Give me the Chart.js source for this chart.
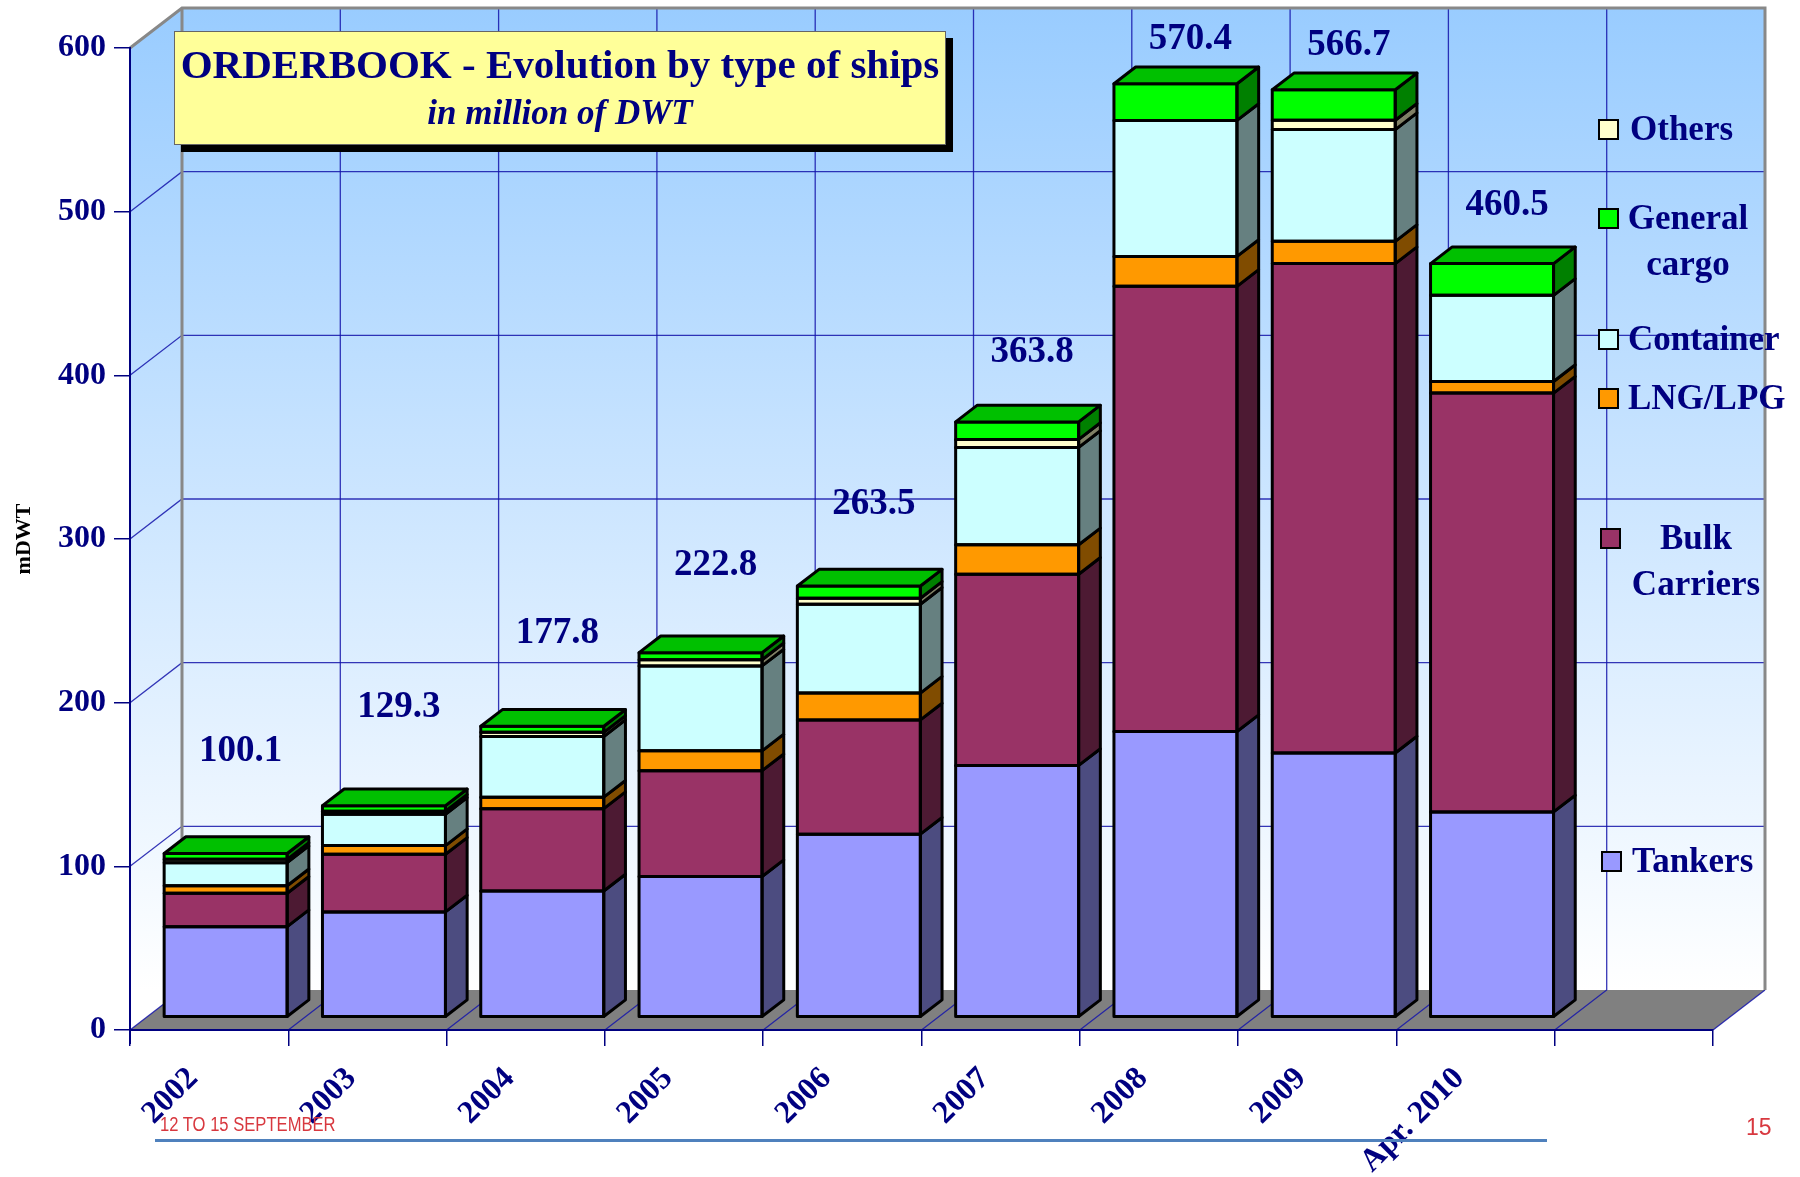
<!DOCTYPE html>
<html>
<head>
<meta charset="utf-8">
<script src="https://cdn.jsdelivr.net/npm/chart.js@4.4.1/dist/chart.umd.min.js"></script>
<style>
  html, body { margin: 0; padding: 0; background: #ffffff; }
  #wrap { position: relative; width: 1800px; height: 1177px; overflow: hidden; }
  #chart { position: absolute; left: 0; top: 0; }
  .titlebox { position: absolute; left: 174px; top: 31px; width: 770px; height: 112px;
    background: #FFFF99; border: 1px solid #666; box-shadow: 7px 7px 0 #000;
    font-family: 'Liberation Serif', 'Times New Roman', serif; color: #000080; text-align: center; }
  .t1 { position: absolute; left: 0; right: 0; top: 8px; font-weight: bold; font-size: 41px; line-height: 48px; }
  .t2 { position: absolute; left: 0; right: 0; top: 60px; font-weight: bold; font-style: italic; font-size: 35px; line-height: 42px; }
  .lg { position: absolute; font-family: 'Liberation Serif', 'Times New Roman', serif; font-weight: bold;
    font-size: 35px; line-height: 46px; color: #000080; white-space: nowrap; }
  .sq { position: absolute; width: 17px; height: 17px; border: 2.5px solid #000; }
  .foot1 { position: absolute; left: 160px; top: 1113px; font-family: 'Liberation Sans Narrow', 'Liberation Sans', sans-serif;
    font-size: 20px; color: #D8383F; white-space: nowrap; transform: scaleX(0.83); transform-origin: 0 0; }
  .footline { position: absolute; left: 155px; top: 1139px; width: 1392px; height: 3px; background: #4F81BD; }
  .foot2 { position: absolute; left: 1746px; top: 1114px; font-family: 'Liberation Sans', sans-serif; font-size: 23px; color: #D8383F; }
</style>
</head>
<body>
<div id="wrap">
  <canvas id="chart" width="1800" height="1177"></canvas>
  <div class="titlebox">
    <div class="t1">ORDERBOOK - Evolution by type of ships</div>
    <div class="t2">in million of DWT</div>
  </div>
  <div id="legend"></div>
  <div class="foot1">12 TO 15 SEPTEMBER</div>
  <div class="footline"></div>
  <div class="foot2">15</div>
</div>
<script>
// ---------- DATA ----------
const categories = ['2002', '2003', '2004', '2005', '2006', '2007', '2008', '2009', 'Apr. 2010', ''];
const tankers      = [55.4, 64.4, 77.2, 86.0, 111.9, 153.9, 174.6, 161.5, 125.5];
const bulkCarriers = [20.4, 35.2, 50.3, 64.7, 69.8, 116.8, 272.0, 299.0, 255.9];
const lngLpg       = [4.6, 5.3, 7.0, 12.1, 16.4, 18.0, 18.3, 13.6, 7.1];
const container    = [14.1, 19.2, 37.1, 51.9, 54.3, 59.5, 83.1, 68.3, 52.6];
const others       = [2.0, 1.8, 2.5, 3.8, 3.6, 4.9, 0, 5.7, 0];
const generalCargo = [3.6, 3.4, 3.7, 4.3, 7.5, 10.7, 22.4, 18.6, 19.4];
const totals       = [100.1, 129.3, 177.8, 222.8, 263.5, 363.8, 570.4, 566.7, 460.5];
const yTicks       = [0, 100, 200, 300, 400, 500, 600];
const seriesNames  = ['Tankers', 'Bulk Carriers', 'LNG/LPG', 'Container', 'Others', 'General cargo'];

// ---------- STYLE ----------
const frontColors = ['#9999FF', '#993366', '#FF9900', '#CCFFFF', '#FFFFCC', '#00FF00'];
const sideColors  = ['#4C4C80', '#4D1A33', '#804C00', '#668080', '#808066', '#008000'];
const topColors   = ['#7373BF', '#73264D', '#BF7300', '#99BFBF', '#BFBF99', '#00C000'];
const NAVY = '#000080';
const SERIF = "'Liberation Serif', 'Times New Roman', serif";
const G = { wallDX: 52, wallDY: -40, barDX: 16.5, barDY: -12.7, depthX: 21.7, depthY: -16.7 };
const LABEL = { dx: 15, squeeze: 0.925, lift: 127 };

// ---------- LEGEND (HTML) ----------
const legendLayout = [
  { s: 4, sq: [1598, 119], txt: [1630, 106], w: null, lines: ['Others'] },
  { s: 5, sq: [1598, 208], txt: [1626, 195], w: 124, lines: ['General', 'cargo'] },
  { s: 3, sq: [1598, 329], txt: [1628, 316], w: null, lines: ['Container'] },
  { s: 2, sq: [1598, 388], txt: [1628, 375], w: null, lines: ['LNG/LPG'] },
  { s: 1, sq: [1600, 528], txt: [1630, 515], w: 132, lines: ['Bulk', 'Carriers'] },
  { s: 0, sq: [1601, 851], txt: [1632, 838], w: null, lines: ['Tankers'] }
];
const legendEl = document.getElementById('legend');
legendLayout.forEach(it => {
  const sq = document.createElement('div');
  sq.className = 'sq';
  sq.style.left = it.sq[0] + 'px';
  sq.style.top = it.sq[1] + 'px';
  sq.style.background = frontColors[it.s];
  legendEl.appendChild(sq);
  const t = document.createElement('div');
  t.className = 'lg';
  t.style.left = it.txt[0] + 'px';
  t.style.top = it.txt[1] + 'px';
  if (it.w) { t.style.width = it.w + 'px'; t.style.textAlign = 'center'; }
  t.innerHTML = it.lines.join('<br>');
  legendEl.appendChild(t);
});

// ---------- 3D PLUGIN ----------
const threeD = {
  id: 'threeD',
  beforeDraw(chart) {
    const { ctx, chartArea: a, scales: { x, y } } = chart;
    const n = categories.length;
    const slot = (a.right - a.left) / n;
    const y0 = y.getPixelForValue(0), yT = y.getPixelForValue(600);
    const DX = G.wallDX, DY = G.wallDY;
    ctx.save();
    const grad = ctx.createLinearGradient(0, yT + DY, 0, y0 + DY);
    grad.addColorStop(0, '#99CCFF');
    grad.addColorStop(1, '#FFFFFF');
    ctx.fillStyle = grad;
    ctx.fillRect(a.left + DX, yT + DY, a.right - a.left, y0 - yT);
    ctx.beginPath();
    ctx.moveTo(a.left, yT); ctx.lineTo(a.left + DX, yT + DY);
    ctx.lineTo(a.left + DX, y0 + DY); ctx.lineTo(a.left, y0); ctx.closePath();
    ctx.fill();
    ctx.beginPath();
    ctx.moveTo(a.left, y0); ctx.lineTo(a.left + DX, y0 + DY);
    ctx.lineTo(a.right + DX, y0 + DY); ctx.lineTo(a.right, y0); ctx.closePath();
    ctx.fillStyle = '#808080';
    ctx.fill();
    ctx.strokeStyle = 'rgba(20,20,170,0.85)';
    ctx.lineWidth = 1.3;
    yTicks.forEach(v => {
      if (v === 600) return;
      const py = y.getPixelForValue(v);
      ctx.beginPath();
      ctx.moveTo(a.left, py); ctx.lineTo(a.left + DX, py + DY);
      if (v > 0) ctx.lineTo(a.right + DX, py + DY);
      ctx.stroke();
    });
    for (let k = 1; k < n; k++) {
      const px = a.left + k * slot;
      ctx.beginPath();
      ctx.moveTo(px + DX, yT + DY); ctx.lineTo(px + DX, y0 + DY); ctx.lineTo(px, y0);
      ctx.stroke();
    }
    ctx.beginPath();
    ctx.moveTo(a.right + DX, y0 + DY); ctx.lineTo(a.right, y0);
    ctx.stroke();
    ctx.strokeStyle = '#888888';
    ctx.lineWidth = 3;
    ctx.beginPath();
    ctx.moveTo(a.left, yT); ctx.lineTo(a.left + DX, yT + DY);
    ctx.lineTo(a.right + DX, yT + DY); ctx.lineTo(a.right + DX, y0 + DY);
    ctx.moveTo(a.left + DX, yT + DY); ctx.lineTo(a.left + DX, y0 + DY);
    ctx.stroke();
    // front y-axis line continues below the floor like the tick marks
    ctx.strokeStyle = NAVY;
    ctx.lineWidth = 2;
    ctx.beginPath();
    ctx.moveTo(a.left, y0); ctx.lineTo(a.left, y0 + 14);
    ctx.stroke();
    ctx.restore();
  },
  beforeDatasetsDraw(chart) {
    chart.ctx.save();
    chart.ctx.translate(G.barDX, G.barDY);
  },
  afterDatasetsDraw(chart) {
    const ctx = chart.ctx;
    const dX = G.depthX, dY = G.depthY;
    ctx.lineWidth = 3;
    ctx.lineJoin = 'round';
    ctx.strokeStyle = '#000';
    const topIdx = [];
    chart.data.datasets.forEach((ds, d) => {
      const meta = chart.getDatasetMeta(d);
      meta.data.forEach((el, j) => {
        const v = ds.data[j];
        if (!v) return;
        topIdx[j] = d;
        const p = el.getProps(['x', 'y', 'base', 'width'], true);
        const l = p.x - p.width / 2, r = p.x + p.width / 2;
        const t = Math.min(p.y, p.base), b = Math.max(p.y, p.base);
        ctx.beginPath();
        ctx.moveTo(r, b); ctx.lineTo(r + dX, b + dY); ctx.lineTo(r + dX, t + dY); ctx.lineTo(r, t);
        ctx.closePath();
        ctx.fillStyle = sideColors[d];
        ctx.fill(); ctx.stroke();
        ctx.strokeRect(l, t, r - l, b - t);
      });
    });
    topIdx.forEach((d, j) => {
      if (d === undefined) return;
      const el = chart.getDatasetMeta(d).data[j];
      const p = el.getProps(['x', 'y', 'base', 'width'], true);
      const l = p.x - p.width / 2, r = p.x + p.width / 2, t = Math.min(p.y, p.base);
      ctx.beginPath();
      ctx.moveTo(l, t); ctx.lineTo(l + dX, t + dY); ctx.lineTo(r + dX, t + dY); ctx.lineTo(r, t);
      ctx.closePath();
      ctx.fillStyle = topColors[d];
      ctx.fill(); ctx.stroke();
    });
    ctx.restore();
    // total labels above the stacks
    const ys = chart.scales.y, xs = chart.scales.x;
    const y0 = ys.getPixelForValue(0);
    ctx.save();
    ctx.fillStyle = NAVY;
    ctx.font = 'bold 37px ' + SERIF;
    ctx.textAlign = 'center';
    ctx.textBaseline = 'middle';
    totals.forEach((tv, j) => {
      const px = xs.getPixelForValue(j) + G.barDX + LABEL.dx;
      const py = y0 + (ys.getPixelForValue(tv) - y0) * LABEL.squeeze - LABEL.lift;
      ctx.fillText(tv.toFixed(1), px, py);
    });
    ctx.restore();
  }
};

const seriesData = [tankers, bulkCarriers, lngLpg, container, others, generalCargo];
const datasets = seriesNames.map((name, i) => ({
  label: name,
  data: seriesData[i],
  backgroundColor: frontColors[i],
  borderWidth: 0,
  barPercentage: 0.777,
  categoryPercentage: 1.0,
  clip: false
}));

new Chart(document.getElementById('chart'), {
  type: 'bar',
  data: { labels: categories, datasets },
  plugins: [threeD],
  options: {
    responsive: false,
    animation: false,
    devicePixelRatio: 1,
    layout: { padding: { top: 48, right: 87, left: 0, bottom: 0 } },
    plugins: { legend: { display: false }, tooltip: { enabled: false }, title: { display: false } },
    scales: {
      x: {
        stacked: true,
        offset: true,
        grid: { offset: true, drawOnChartArea: false, drawTicks: true, tickLength: 16, color: NAVY, lineWidth: 1.5 },
        border: { display: true, color: NAVY, width: 2 },
        ticks: { autoSkip: false, minRotation: 45, maxRotation: 45, padding: 14, labelOffset: -16, color: NAVY,
                 font: { family: SERIF, weight: 'bold', size: 32 } },
        afterFit(s) { s.height = 147; }
      },
      y: {
        stacked: true,
        min: 0, max: 600,
        afterBuildTicks(s) { s.ticks = yTicks.map(v => ({ value: v })); },
        grid: { drawOnChartArea: false, drawTicks: true, tickLength: 16, color: NAVY, lineWidth: 1.5 },
        border: { display: true, color: NAVY, width: 2 },
        ticks: { padding: 8, color: NAVY, font: { family: SERIF, weight: 'bold', size: 32 } },
        title: { display: true, text: 'mDWT', color: '#000', padding: { top: 11, bottom: 0 },
                 font: { family: SERIF, weight: 'bold', size: 22 } },
        afterFit(s) { s.width = 130; }
      }
    }
  }
});
</script>
</body>
</html>
